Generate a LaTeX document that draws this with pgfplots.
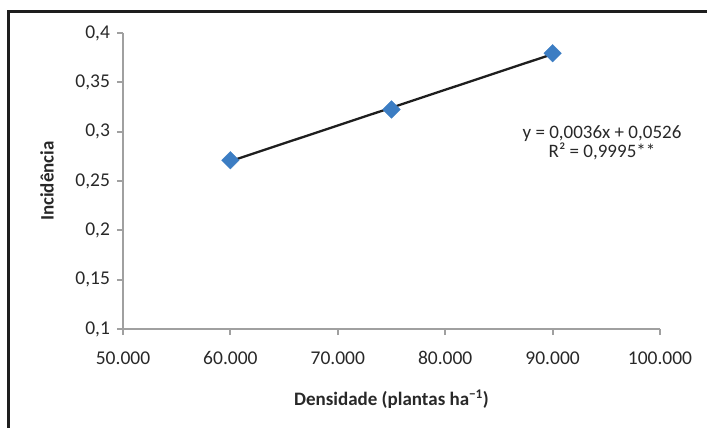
\documentclass[border=0pt]{standalone}
\usepackage{pgfplots}
\pgfplotsset{compat=1.18}
\usepackage{fontspec}
\setmainfont{Carlito}
\definecolor{axgray}{RGB}{160,160,160}
\definecolor{mblue}{RGB}{60,125,195}
\definecolor{frame}{RGB}{30,30,30}
\definecolor{txt}{RGB}{40,40,40}
\begin{document}
\begin{tikzpicture}
\useasboundingbox (-123bp,-99bp) rectangle (584bp,329bp);
\draw[line width=3bp, frame] (-114.5bp,-105bp) -- (-114.5bp,317.5bp) -- (590bp,317.5bp);
\begin{axis}[
  at={(0,0)}, anchor=south west,
  scale only axis, width=537bp, height=296bp,
  xmin=50000, xmax=100000, ymin=0.1, ymax=0.4,
  clip=false,
  axis x line*=bottom, axis y line*=left,
  axis line style={axgray, line width=2.5bp},
  tick style={axgray, line width=2bp},
  major tick length=6bp, tick align=outside,
  xtick={50000,60000,70000,80000,90000,100000},
  xticklabels={50.000,60.000,70.000,80.000,90.000,100.000},
  ytick={0.1,0.15,0.2,0.25,0.3,0.35,0.4},
  yticklabels={{0,1},{0,15},{0,2},{0,25},{0,3},{0,35},{0,4}},
  scaled x ticks=false, scaled y ticks=false,
  ticklabel style={font=\fontsize{19.5bp}{23bp}\selectfont, text=txt},
  yticklabel style={xshift=-3.5bp},
  xticklabel style={yshift=-13bp},
  xlabel={Densidade (plantas ha\textsuperscript{−1})},
  xlabel style={font=\bfseries\fontsize{19bp}{23bp}\selectfont, text=txt, at={(axis description cs:0.5,-0.2601)}, anchor=base},
  ylabel={Incidência},
  ylabel style={font=\bfseries\fontsize{19bp}{23bp}\selectfont, text=txt, at={(axis description cs:-0.1415,0.5)}, anchor=center},
]
\addplot[only marks, mark=square*, mark size=6.2bp, mark options={rotate=45, fill=mblue, draw=mblue}] coordinates {(60000,0.271) (75000,0.3225) (90000,0.3795)};
\addplot[frame, line width=2.3bp] coordinates {(60000,0.2701) (90000,0.3786)};
\node[anchor=base, font=\fontsize{19bp}{23bp}\selectfont, text=txt, inner sep=0pt] at (axis cs:94600,0.2932) {y = 0,0036x + 0,0526};
\node[anchor=base, font=\fontsize{19bp}{23bp}\selectfont, text=txt, inner sep=0pt] at (axis cs:94600,0.2743) {R² = 0,9995**};
\end{axis}
\end{tikzpicture}
\end{document}
